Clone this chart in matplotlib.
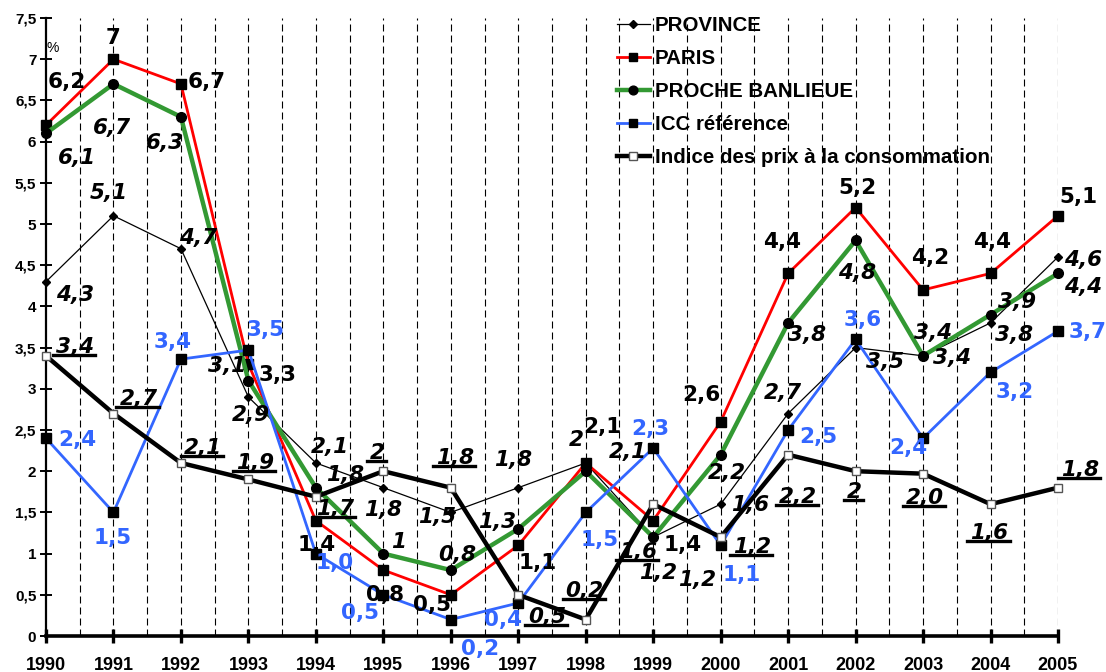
import matplotlib
matplotlib.use('Agg')
import matplotlib.pyplot as plt
from matplotlib.lines import Line2D
from matplotlib.ticker import FuncFormatter, MultipleLocator
import numpy as np

plt.rcParams['font.family'] = ['Liberation Sans', 'DejaVu Sans']

# ---------------- data ----------------
years = list(range(1990, 2006))
province = [4.3, 5.1, 4.7, 2.9, 2.1, 1.8, 1.5, 1.8, 2.1, 1.2, 1.6, 2.7, 3.5, 3.4, 3.8, 4.6]
paris = [6.2, 7.0, 6.7, 3.3, 1.4, 0.8, 0.5, 1.1, 2.1, 1.4, 2.6, 4.4, 5.2, 4.2, 4.4, 5.1]
proche = [6.1, 6.7, 6.3, 3.1, 1.8, 1.0, 0.8, 1.3, 2.0, 1.2, 2.2, 3.8, 4.8, 3.4, 3.9, 4.4]
icc = [2.4, 1.5, 3.36, 3.47, 1.0, 0.5, 0.2, 0.4, 1.5, 2.28, 1.1, 2.5, 3.6, 2.4, 3.2, 3.7]
ipc = [3.4, 2.7, 2.1, 1.9, 1.69, 2.0, 1.8, 0.5, 0.2, 1.6, 1.2, 2.2, 2.0, 1.97, 1.6, 1.8]

province_lbl = ["4,3", "5,1", "4,7", "2,9", "2,1", "1,8", "1,5", "1,8", "2,1", "1,2", "1,6", "2,7", "3,5", "3,4", "3,8", "4,6"]
paris_lbl = ["6,2", "7", "6,7", "3,3", "1,4", "0,8", "0,5", "1,1", "2,1", "1,4", "2,6", "4,4", "5,2", "4,2", "4,4", "5,1"]
proche_lbl = ["6,1", "6,7", "6,3", "3,1", "1,8", "1", "0,8", "1,3", "2", "1,2", "2,2", "3,8", "4,8", "3,4", "3,9", "4,4"]
icc_lbl = ["2,4", "1,5", "3,4", "3,5", "1,0", "0,5", "0,2", "0,4", "1,5", "2,3", "1,1", "2,5", "3,6", "2,4", "3,2", "3,7"]
ipc_lbl = ["3,4", "2,7", "2,1", "1,9", "1,7", "2", "1,8", "0,5", "0,2", "1,6", "1,2", "2,2", "2", "2,0", "1,6", "1,8"]

series_names = ["PROVINCE", "PARIS", "PROCHE BANLIEUE", "ICC référence",
                "Indice des prix à la consommation"]

# label offsets (pixels: right, down) -- layout only
province_off = [(29, 13), (-5, -23), (17, -11), (2, 18), (14, -16), (0, 22), (-14, 5), (-5, -28),
                (42, -11), (5, 36), (29, 1), (-5, -21), (29, 14), (29, 2), (24, 12), (25, 3)]
paris_off = [(21, -43), (0, -21), (26, -2), (29, 11), (1, 24), (2, 25), (-19, 10), (19, 18),
             (17, -36), (29, 24), (-19, -27), (-6, -31), (2, -20), (7, -32), (2, -31), (20, -19)]
proche_off = [(31, 25), (-1, 44), (-16, 26), (-21, -15), (29, -13), (15, -12), (6, -15), (-21, -7),
              (-9, -31), (44, 43), (6, 18), (19, 12), (1, 33), (10, -23), (27, -13), (25, 14)]
icc_off = [(31, 2), (-1, 26), (-8, -17), (17, -20), (19, 9), (-23, 18), (29, 29), (-15, 17),
           (14, 28), (-3, -19), (21, 30), (30, 7), (7, -19), (-15, 10), (24, 20), (30, 1)]
ipc_off = [(29, -9), (25, -15), (22, -15), (7, -16), (19, 12), (-6, -18), (4, -30), (29, 22),
           (-1, -29), (-15, 48), (31, 10), (10, 42), (-1, 21), (2, 24), (-1, 29), (22, -18)]

RED = '#FF0000'
GREEN = '#339933'
BLUE = '#3366FF'

fig = plt.figure(figsize=(11.06, 6.72), dpi=100)
ax = fig.add_axes([46 / 1106, 36 / 672, (1058 - 46) / 1106, (636 - 18) / 672])

ax.set_xlim(1990, 2005)
ax.set_ylim(0, 7.5)

# vertical dashed grid every half year
for gx in np.arange(1990.5, 2005.01, 0.5):
    ax.axvline(gx, color='black', lw=0.8, dashes=(6.3, 3.6), zorder=1)

l1, = ax.plot(years, province, color='black', lw=0.9, marker='D', ms=4.5,
              mfc='black', mec='black', zorder=3, clip_on=False)
l2, = ax.plot(years, paris, color=RED, lw=2.0, marker='s', ms=7,
              mfc='black', mec='black', zorder=4, clip_on=False)
l3, = ax.plot(years, proche, color=GREEN, lw=3.2, marker='o', ms=7,
              mfc='black', mec='black', zorder=5, clip_on=False)
l4, = ax.plot(years, icc, color=BLUE, lw=2.0, marker='s', ms=7,
              mfc='black', mec='black', zorder=6, clip_on=False)
l5, = ax.plot(years, ipc, color='black', lw=3.2, marker='s', ms=6,
              mfc='white', mec='#555555', mew=1.0, zorder=7, clip_on=False)

# axes styling
for s in ['top', 'right']:
    ax.spines[s].set_visible(False)
ax.spines['left'].set_linewidth(1.6)
ax.spines['bottom'].set_linewidth(2.6)
ax.xaxis.set_major_locator(MultipleLocator(1))
ax.yaxis.set_major_locator(MultipleLocator(0.5))
ax.tick_params(axis='x', direction='inout', length=10, width=2.4, pad=10, labelsize=13)
ax.tick_params(axis='y', direction='inout', length=8, width=1.4, pad=3, labelsize=11)
ax.xaxis.set_major_formatter(FuncFormatter(lambda v, p: '%d' % round(v)))
ax.yaxis.set_major_formatter(FuncFormatter(lambda v, p: ('%g' % v).replace('.', ',')))
for lab in ax.get_xticklabels() + ax.get_yticklabels():
    lab.set_fontweight('bold')

fig.text(53 / 1106, 1 - 48 / 672, '%', fontsize=10, ha='center', va='center')

LFS = 15.5
LFAM = ['DejaVu Sans']


def put_labels(ys, texts, offs, zorder, **kw):
    arts = []
    for x, y, t, (dx, dy) in zip(years, ys, texts, offs):
        a = ax.annotate(t, (x, y), xytext=(dx, -dy), textcoords='offset pixels',
                        ha='center', va='center', annotation_clip=False,
                        fontsize=LFS, fontweight='bold', family=LFAM, zorder=zorder, **kw)
        arts.append(a)
    return arts


put_labels(province, province_lbl, province_off, 10, style='italic', color='black')
put_labels(paris, paris_lbl, paris_off, 11, color='black')
put_labels(proche, proche_lbl, proche_off, 12, style='italic', color='black')
put_labels(icc, icc_lbl, icc_off, 13, color=BLUE)
ipc_arts = put_labels(ipc, ipc_lbl, ipc_off, 14, style='italic', color='black')

# legend
leg = ax.legend([l1, l2, l3, l4, l5], series_names, loc='upper left',
                bbox_to_anchor=(617 / 1106, 1 - 16 / 672), bbox_transform=fig.transFigure,
                frameon=False, prop={'weight': 'bold', 'size': 14.8, 'family': 'Liberation Sans'},
                handlelength=1.6, handletextpad=0.25, labelspacing=0.68,
                borderpad=0, borderaxespad=0, markerscale=0.9)

# underline the price index labels
fig.canvas.draw()
r = fig.canvas.get_renderer()
W, H = fig.bbox.width, fig.bbox.height
for a in ipc_arts:
    bb = a.get_window_extent(r)
    y0 = bb.y0 + 2
    fig.add_artist(Line2D([(bb.x0 - 3) / W, (bb.x1 + 1) / W], [y0 / H, y0 / H],
                          color='black', lw=2.4, zorder=20))

fig.savefig('out.png', dpi=100)
